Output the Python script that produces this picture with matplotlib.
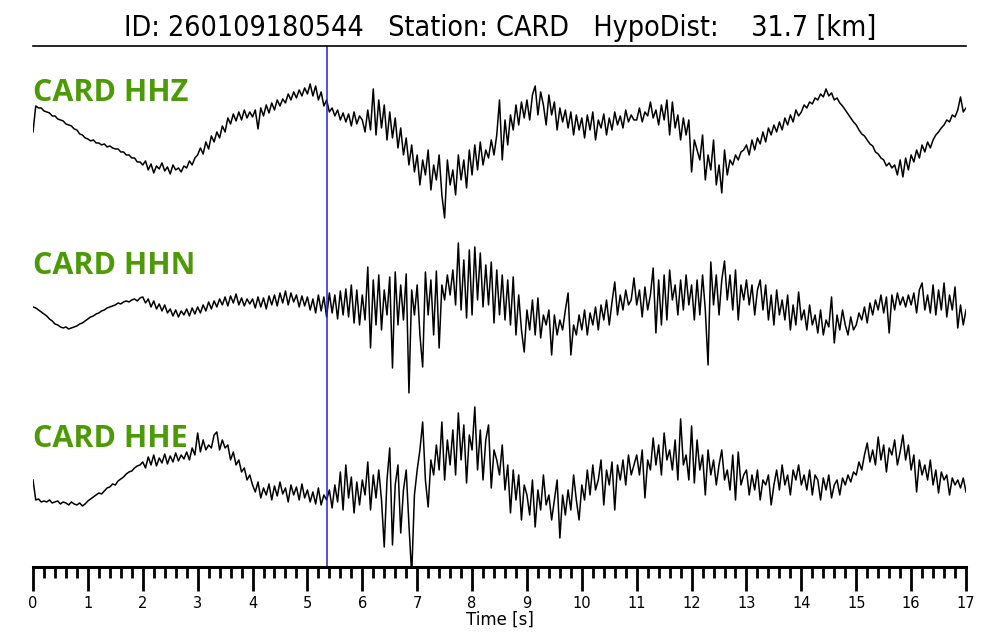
import numpy as np
import matplotlib
matplotlib.use("Agg")
import matplotlib.pyplot as plt
from matplotlib.ticker import MultipleLocator

# event info
event_id = "260109180544"
station = "CARD"
hypo_dist = 31.7
pick_time = 5.36  # blue marker [s]
dt = 0.05

channels = ["HHZ", "HHN", "HHE"]

# amplitudes (arbitrary units), one row per second
hhz = [
    -2, 24, 22, 22, 19, 18, 17, 14, 14, 11, 10, 9, 6, 5, 4, 1, 0, -4, -5, -8,
    -9, -11, -10, -13, -13, -15, -14, -17, -16, -18, -19, -19, -22, -22, -25, -25, -28, -28, -32, -32,
    -35, -31, -40, -34, -43, -36, -39, -33, -41, -37, -44, -35, -40, -38, -42, -36, -38, -31, -35, -28,
    -25, -18, -24, -12, -19, -6, -12, -2, -8, 4, -2, 12, 6, 16, 9, 18, 10, 20, 12, 18,
    13, 20, 1, 22, 14, 25, 17, 27, 20, 30, 24, 31, 27, 36, 30, 38, 32, 40, 34, 42,
    36, 46, 34, 44, 30, 38, 24, 30, 18, 22, 14, 20, 10, 17, 8, 16, 4, 18, 6, 14,
    10, -2, 20, 0, 41, -5, 30, 2, 25, -10, 18, -8, 12, -18, 2, -25, -8, -35, -15, -42,
    -25, -55, -30, -45, -20, -60, -35, -50, -25, -65, -88, -30, -55, -40, -65, -25, -50, -30, -58, -20,
    -45, -15, -40, -12, -35, -20, -28, -10, -25, -5, 30, -30, 10, -15, 15, 0, 25, 5, 28, 12,
    30, 10, 35, 44, 15, 38, 25, 5, 35, 15, 28, 0, 22, 8, 20, 2, 18, -5, 15, 0,
    12, -8, 15, 0, 18, -10, 10, 2, 16, -5, 12, 0, 18, 5, 14, 2, 20, 8, 15, 10,
    10, 22, 8, 18, 14, 28, 12, 20, 5, 25, 10, 30, -5, 28, 2, 15, -10, 12, -5, 10,
    -42, -10, -20, -30, -5, -50, -25, -40, -10, -55, -35, -63, -20, -45, -30, -35, -25, -30, -22, -20,
    -15, -25, -10, -20, -8, -14, -2, -12, 2, -5, 5, -2, 8, 0, 12, 5, 15, 8, 20, 14,
    18, 25, 22, 28, 26, 32, 30, 36, 33, 41, 34, 37, 30, 32, 27, 24, 20, 16, 12, 8,
    5, 0, -4, -6, -10, -14, -16, -22, -24, -28, -30, -36, -33, -38, -35, -45, -30, -47, -28, -40,
    -25, -32, -20, -28, -15, -22, -12, -18, -10, -5, -2, 2, 5, 10, 8, 15, 13, 20, 33, 18,
    22,
]

hhn = [
    -2, -3, -5, -7, -9, -11, -14, -16, -19, -20, -22, -23, -22, -24, -23, -22, -21, -19, -18, -16,
    -14, -12, -11, -9, -8, -6, -5, -3, -2, -1, 0, 2, 1, 3, 4, 3, 5, 6, 4, 7,
    8, 2, 6, -2, 4, -4, 1, -6, 0, -8, -4, -11, -5, -12, -6, -10, -4, -11, -3, -9,
    -2, -8, 0, -6, 3, -4, 4, -2, 6, 0, 8, -1, 9, 2, 11, 0, 7, -1, 6, 1,
    6, -3, 8, -2, 7, -4, 9, 0, 10, -1, 12, 2, 14, 0, 12, 3, 10, -2, 9, -1,
    8, -5, 6, -8, 10, -6, 8, -12, 12, -8, 10, -14, 14, -10, 16, -12, 20, -18, 15, -20,
    10, -15, 38, -43, 25, -20, 30, -25, 15, -10, 28, -63, 33, -20, 20, -15, 31, -88, 15, -10,
    20, -30, -62, 33, -10, 25, -30, 34, -43, 20, 5, 30, 10, 35, 0, 62, -5, 45, -13, 55,
    -10, 58, 5, 52, -2, 40, 0, 43, -18, 35, -10, 30, -15, 25, -20, 28, -30, 10, -25, -47,
    -5, -25, 5, -30, 7, -33, -10, -20, -5, -50, -10, -30, -15, -25, -5, 12, -50, -20, -30, -10,
    -25, -5, -30, -8, -20, -2, -25, 0, -15, 5, -20, 3, 23, -10, 10, -5, 15, 0, 5, 27,
    0, 15, -12, 18, -5, 10, 37, -28, 25, -20, 30, -15, 35, 5, 20, -10, 25, -5, 30, 0,
    20, -15, 25, -10, 30, -5, -60, 43, 0, 30, -10, 25, 44, 5, 30, -5, 35, -15, 20, 5,
    25, 0, 20, -10, 15, 25, -5, 20, -15, 10, -20, 15, -10, 5, -15, 10, -25, 0, -20, 13,
    -15, -5, -25, 0, -20, -10, -28, -5, -30, -15, -22, 8, -38, -10, -25, -5, -20, -30, -12, -25,
    -20, -8, -15, -2, -18, 2, -10, 5, -5, 10, -8, 8, -28, 10, -5, 12, 0, 8, -2, 10,
    0, 12, -8, 15, 22, -5, 10, -8, 20, -10, 15, -5, 22, -12, 10, -5, 18, -23, 0, -20,
    -5,
]

hhe = [
    10, -10, -9, -12, -11, -12, -10, -13, -12, -11, -14, -12, -13, -15, -12, -14, -15, -13, -16, -14,
    -11, -9, -7, -5, -3, -4, -1, 2, 3, 6, 5, 9, 11, 13, 16, 18, 19, 22, 24, 25,
    28, 22, 33, 25, 35, 24, 32, 27, 36, 26, 34, 28, 37, 29, 35, 31, 38, 30, 42, 35,
    57, 38, 50, 40, 45, 42, 55, 58, 40, 50, 42, 45, 30, 38, 25, 30, 18, 22, 10, 15,
    5, -2, 8, -8, 2, -5, 6, -10, 4, -6, 8, -4, 2, -12, 5, -5, 3, -10, 6, -8,
    0, -12, -2, -14, 2, -15, -5, -10, 0, -18, 5, -12, 18, -20, 25, -8, 13, -23, 8, -15,
    10, -5, 28, -20, 15, -8, 20, -10, -57, 10, 42, -55, 5, 25, -43, 0, 20, -35, -85, -5,
    20, 40, 68, 10, -17, 30, 15, 45, 20, 68, 10, 50, 25, 60, 15, 77, 30, 65, 7, 55,
    40, 83, 20, 60, 10, 50, 65, 2, 40, 30, 15, 45, 0, 25, -23, 20, -10, 15, -30, 5,
    -5, -25, 10, -37, 0, -20, 15, -15, -5, -30, -10, 10, -48, -5, -25, 0, -20, 15, -10, -30,
    5, -10, 20, -5, 25, 0, 10, 30, -15, 20, 5, 28, -20, 25, 10, 30, 5, 35, 15, 25,
    35, 15, 40, -8, 30, 20, 52, 25, 45, 15, 57, 30, 40, 20, 50, 10, 71, 25, 35, 10,
    64, 7, 50, 20, 35, -5, 40, 15, 30, 5, 25, 40, 10, 20, 0, 35, -10, 38, 5, 15,
    20, -5, 15, 0, 20, -10, 10, 5, 15, -15, 5, 20, 0, 25, 5, 15, -5, 20, 10, 25,
    5, 15, 0, 20, -5, 15, 10, -10, 12, 0, 15, -8, 5, 10, -5, 12, 5, 15, 8, 18,
    15, 28, 20, 35, 47, 28, 40, 25, 53, 30, 45, 18, 42, 35, 50, 25, 38, 55, 30, 45,
    20, 35, -2, 30, 15, 25, 10, 30, 5, 20, -3, 18, 10, 15, -5, 12, 5, 10, 2, 12,
    -2,
]

traces = [hhz, hhn, hhe]
offsets = [437, 262, 77]
label_y = [474, 301, 128]

fig = plt.figure(figsize=(10, 6.4), dpi=100)
ax = fig.add_axes([0.033, 0.1141, 0.933, 0.8141])

for name, tr, off, ly in zip(channels, traces, offsets, label_y):
    tr = np.array(tr, dtype=float)
    t = np.arange(len(tr)) * dt
    ax.plot(t, tr + off, color="black", lw=1.1)
    ax.text(0, ly, station + " " + name, color="#4c9a06", fontsize=22,
            fontweight="bold", family="Open Sans", va="center", ha="left")

ax.axvline(pick_time, color="#2222dd", lw=1.1)

ax.set_xlim(0, 17)
ax.set_ylim(0, 521)
ax.spines["left"].set_visible(False)
ax.spines["right"].set_visible(False)
ax.spines["top"].set_linewidth(1.2)
ax.spines["bottom"].set_linewidth(2.2)
ax.set_yticks([])
ax.xaxis.set_major_locator(MultipleLocator(1))
ax.xaxis.set_minor_locator(MultipleLocator(0.2))
ax.tick_params(axis="x", which="major", direction="out", length=17, width=2, labelsize=10.5, pad=4)
ax.tick_params(axis="x", which="minor", direction="out", length=8, width=2)
ax.set_xlabel("Time [s]", fontsize=12, labelpad=0)

fig.text(0.5, 0.957, f"ID: {event_id}   Station: {station}   HypoDist:    {hypo_dist} [km]",
         ha="center", va="center", fontsize=20.5, fontstretch="condensed")

fig.savefig("out.png", dpi=100)
